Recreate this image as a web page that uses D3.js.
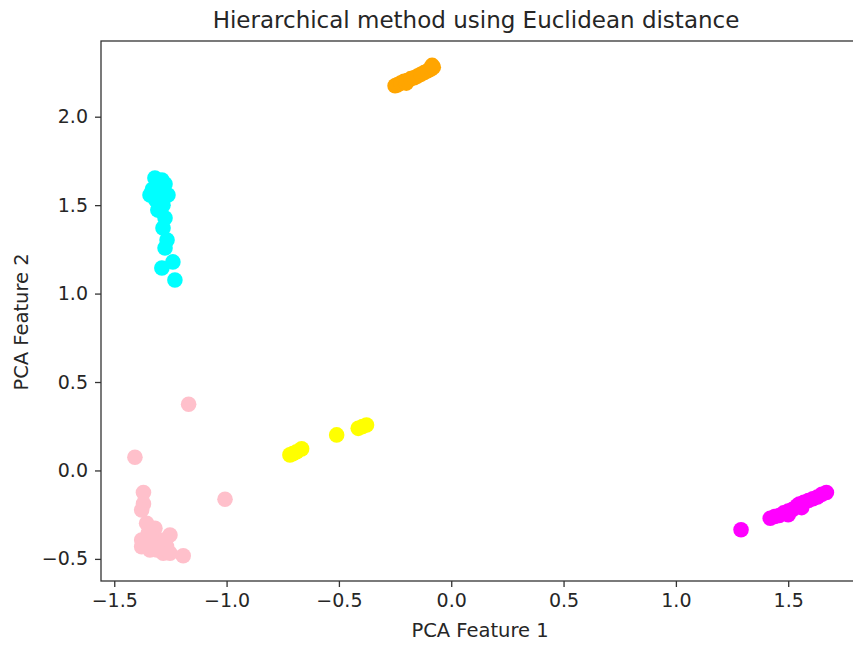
<!DOCTYPE html>
<html>
<head>
<meta charset="utf-8">
<script src="https://cdn.jsdelivr.net/npm/d3@7"></script>
<style>
  body { margin: 0; background: #fff; }
  text { font-family: "DejaVu Sans", sans-serif; fill: #262626; }
</style>
</head>
<body>
<div id="chart"></div>
<script>
// cluster points, [PCA1, PCA2]
const cyanPts = [
  [-1.319, 1.653], [-1.288, 1.642], [-1.274, 1.619], [-1.306, 1.614], [-1.33, 1.59],
  [-1.341, 1.557], [-1.297, 1.574], [-1.261, 1.557], [-1.315, 1.529], [-1.283, 1.50],
  [-1.306, 1.472], [-1.274, 1.427], [-1.283, 1.371], [-1.265, 1.303], [-1.274, 1.258],
  [-1.239, 1.179], [-1.288, 1.145], [-1.230, 1.077]
];
const pinkPts = [
  [-1.169, 0.374], [-1.408, 0.075], [-1.007, -0.163], [-1.370, -0.125], [-1.370, -0.189],
  [-1.378, -0.223], [-1.356, -0.299], [-1.319, -0.327], [-1.252, -0.365], [-1.378, -0.393],
  [-1.378, -0.431], [-1.341, -0.449], [-1.282, -0.468], [-1.252, -0.468], [-1.193, -0.482],
  [-1.319, -0.374], [-1.296, -0.412], [-1.349, -0.355], [-1.267, -0.431], [-1.33, -0.40],
  [-1.31, -0.45], [-1.30, -0.44], [-1.27, -0.39], [-1.36, -0.42]
];
const yellowPts = [
  [-0.718, 0.088], [-0.705, 0.095], [-0.688, 0.106], [-0.666, 0.122],
  [-0.510, 0.201], [-0.414, 0.238], [-0.395, 0.248], [-0.377, 0.257]
];
const orangePts = [
  [-0.25, 2.175], [-0.24, 2.18], [-0.225, 2.19], [-0.21, 2.20], [-0.20, 2.19],
  [-0.195, 2.205], [-0.18, 2.215], [-0.165, 2.22], [-0.15, 2.23], [-0.135, 2.24],
  [-0.12, 2.25], [-0.105, 2.26], [-0.09, 2.27], [-0.08, 2.28], [-0.085, 2.29]
];
const magentaPts = [
  [1.29, -0.335], [1.42, -0.27], [1.44, -0.26], [1.46, -0.255], [1.48, -0.24],
  [1.50, -0.25], [1.50, -0.23], [1.52, -0.22], [1.54, -0.20], [1.56, -0.21],
  [1.55, -0.19], [1.57, -0.18], [1.59, -0.17], [1.61, -0.16], [1.63, -0.15],
  [1.65, -0.135], [1.67, -0.125]
];
const clusters = [
  { color: '#ff00ff', pts: magentaPts },
  { color: '#ffc0cb', pts: pinkPts },
  { color: '#00ffff', pts: cyanPts },
  { color: '#ffff00', pts: yellowPts },
  { color: '#ffa500', pts: orangePts }
];
const xTicks = [-1.5, -1.0, -0.5, 0.0, 0.5, 1.0, 1.5];
const yTicks = [-0.5, 0.0, 0.5, 1.0, 1.5, 2.0];

const W = 853, H = 646;
const mLeft = 101, mTop = 41, mRight = 861, mBottom = 581;

const svg = d3.select('#chart')
  .append('svg')
  .attr('width', W)
  .attr('height', H);

const x = d3.scaleLinear().domain([-1.559, 1.824]).range([mLeft, mRight]);
const y = d3.scaleLinear().domain([-0.625, 2.428]).range([mBottom, mTop]);

// points
clusters.forEach(c => {
  svg.append('g')
    .selectAll('circle')
    .data(c.pts)
    .enter()
      .append('circle')
        .attr('cx', d => x(d[0]))
        .attr('cy', d => y(d[1]))
        .attr('r', 7.8)
        .attr('fill', c.color)
        ;
});

// axes
const fmt = d3.format('.1f');
const xAxis = svg.append('g')
  .attr('transform', `translate(0,${mBottom})`)
  .call(d3.axisBottom(x).tickValues(xTicks).tickFormat(fmt).tickSizeOuter(0).tickSize(6).tickPadding(7));
const yAxis = svg.append('g')
  .attr('transform', `translate(${mLeft},0)`)
  .call(d3.axisLeft(y).tickValues(yTicks).tickFormat(fmt).tickSizeOuter(0).tickSize(6).tickPadding(7));

[xAxis, yAxis].forEach(a => {
  a.select('.domain').remove();
  a.selectAll('line').attr('stroke', '#333').attr('stroke-width', 1.3);
  a.selectAll('text').style('font-size', '19px').attr('fill', '#262626');
});

// frame
svg.append('rect')
  .attr('x', mLeft)
  .attr('y', mTop)
  .attr('width', mRight - mLeft)
  .attr('height', mBottom - mTop)
  .attr('fill', 'none')
  .attr('stroke', '#333')
  .attr('stroke-width', 1.3);

svg.append('text')
  .attr('x', 476)
  .attr('y', 28)
  .attr('text-anchor', 'middle')
  .style('font-size', '23px')
  .text('Hierarchical method using Euclidean distance');

svg.append('text')
  .attr('x', 480)
  .attr('y', 637)
  .attr('text-anchor', 'middle')
  .style('font-size', '19.5px')
  .text('PCA Feature 1');

svg.append('text')
  .attr('transform', `translate(28,322) rotate(-90)`)
  .attr('text-anchor', 'middle')
  .style('font-size', '19.5px')
  .text('PCA Feature 2');
</script>
</body>
</html>
